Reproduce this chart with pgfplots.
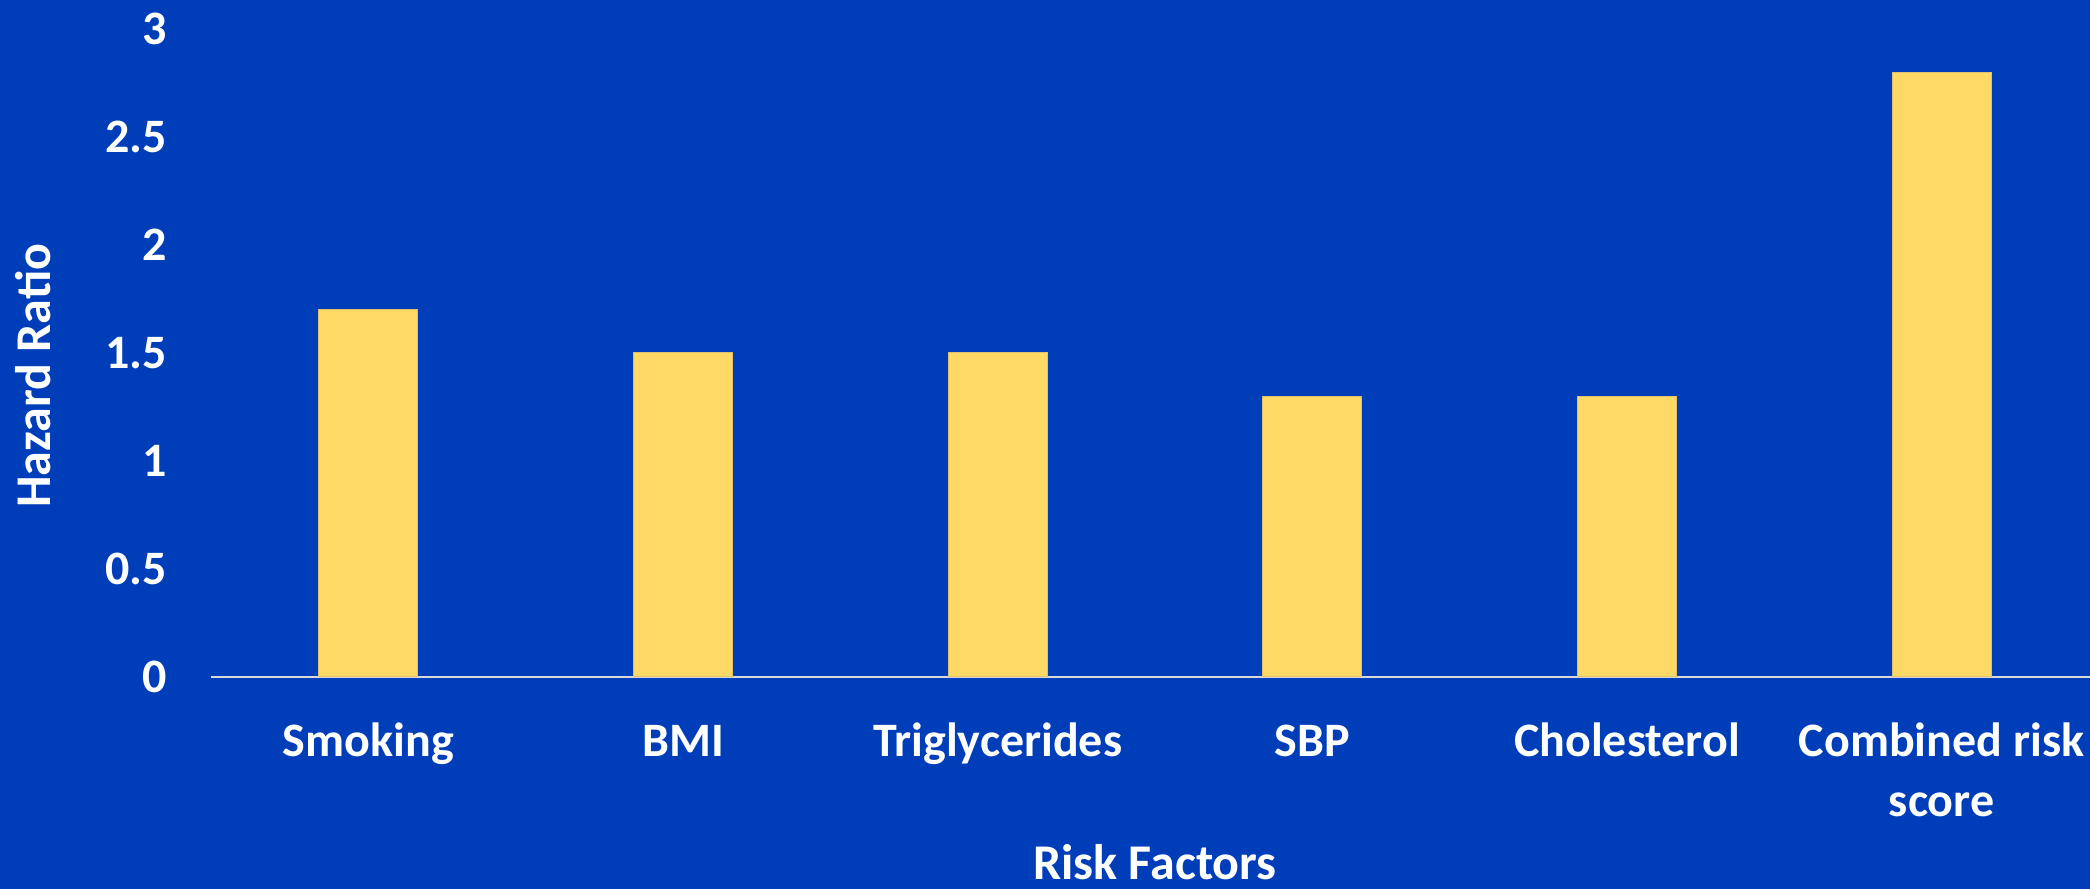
\documentclass[border=0pt]{standalone}
\usepackage{fontspec}
\setmainfont{Carlito}
\usepackage{pgfplots}
\pgfplotsset{compat=1.18}

\definecolor{bgblue}{RGB}{0,62,185}
\definecolor{baryellow}{RGB}{255,217,102}
\definecolor{axgray}{RGB}{217,217,217}

\begin{document}
\begin{tikzpicture}
% slide background
\fill[bgblue] (0,0) rectangle (1045pt,444.5pt);
\begin{axis}[
  at={(105.5pt,106pt)}, anchor=south west,
  scale only axis, width=944pt, height=324pt,
  xmin=-0.5, xmax=5.5, ymin=0, ymax=3,
  ytick={0,0.5,...,3},
  xtick=data,
  xticklabels={\strut Smoking, \strut BMI, \strut Triglycerides, \strut SBP,
    \strut Cholesterol, {\strut Combined risk\\score}},
  /pgf/number format/assume math mode=true,
  separate axis lines,
  axis x line*=bottom, axis y line*=left,
  x axis line style={draw=axgray, line width=1pt},
  y axis line style={draw=none},
  major tick length=0pt,
  ybar, bar width=49.5pt,
  every tick label/.append style={text=white, font=\fontsize{24}{30}\selectfont\bfseries},
  yticklabel style={anchor=east, inner sep=0pt, xshift=-22pt},
  xticklabel style={anchor=north, inner sep=0pt, yshift=-18.5pt, align=center},
  xlabel={Risk Factors}, ylabel={Hazard Ratio},
  label style={text=white, font=\fontsize{25}{30}\selectfont\bfseries},
  xlabel style={at={(axis description cs:0.5,-0.286)}, anchor=center},
  ylabel style={at={(axis description cs:-0.094,0.465)}, anchor=center},
]
\addplot[fill=baryellow, draw=baryellow!75!gray, line width=0.5pt]
  coordinates {(0,1.7) (1,1.5) (2,1.5) (3,1.3) (4,1.3) (5,2.8)};
\end{axis}
\pgfresetboundingbox
\useasboundingbox (0,0) rectangle (1045pt,444.5pt);
\end{tikzpicture}
\end{document}
